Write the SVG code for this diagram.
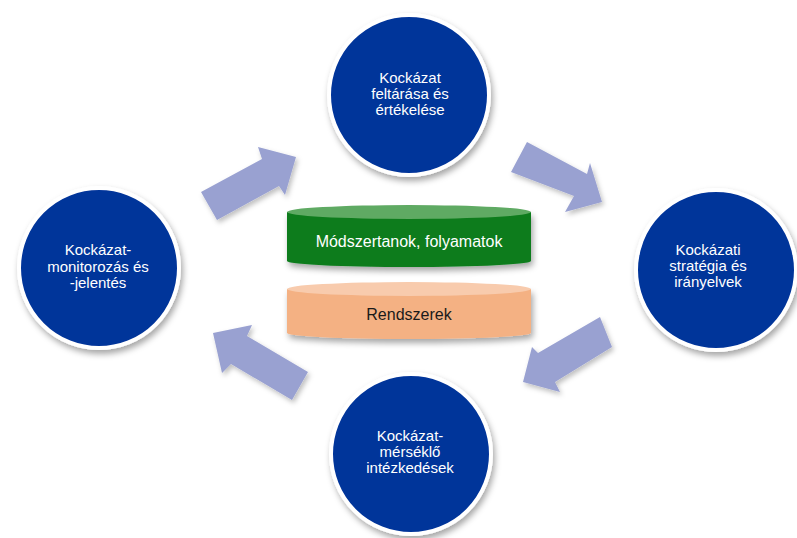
<svg xmlns="http://www.w3.org/2000/svg" width="797" height="538" viewBox="0 0 797 538">
  <style>
    .circle { fill: #02349a; stroke: #ffffff; stroke-width: 4; filter: url(#shadow); }
    .ctext { font-family: "Liberation Sans", Arial, sans-serif; font-size: 15px; fill: #ffffff; text-anchor: middle; }
    .arrow { fill: #99a1d1; filter: url(#ashadow); }
    .cyltext { font-family: "Liberation Sans", Arial, sans-serif; font-size: 16px; text-anchor: middle; }
  </style>
  <defs>
    <filter id="shadow" x="-20%" y="-20%" width="140%" height="150%">
      <feDropShadow dx="2" dy="4" stdDeviation="3" flood-color="#000000" flood-opacity="0.35"/>
    </filter>
    <filter id="ashadow" x="-20%" y="-20%" width="140%" height="150%">
      <feDropShadow dx="2" dy="3" stdDeviation="2.5" flood-color="#000000" flood-opacity="0.25"/>
    </filter>
  </defs>
  <rect width="797" height="538" fill="#ffffff"/>

  <g id="connectors">
    <polygon class="arrow" points="201,192 262,159 258,147 296,157 285,195 279,186 217,220"/>
    <polygon class="arrow" points="527,142 587,174 590,163 602,202 565,212 574,196 511,172"/>
    <polygon class="arrow" points="600,317 538,353 532,347 523,382 560,392 555,382 612,347"/>
    <polygon class="arrow" points="213,333 252,325 247,336 308,372 292,400 231,364 222,373"/>
  </g>

  <g id="node-methods">
    <path d="M287,212 L287,261 A122,6 0 0 0 531,261 L531,212 Z" fill="#0a7b1c" filter="url(#shadow)"/>
    <ellipse cx="409" cy="212" rx="122" ry="7" fill="#5faa63"/>
    <text class="cyltext" x="409" y="247" fill="#ffffff">Módszertanok, folyamatok</text>
  </g>

  <g id="node-systems">
    <path d="M287,289 L287,333 A122,6 0 0 0 531,333 L531,289 Z" fill="#f4b183" filter="url(#shadow)"/>
    <ellipse cx="409" cy="289" rx="122" ry="7" fill="#f8cbad"/>
    <text class="cyltext" x="409" y="320" fill="#1a1a1a">Rendszerek</text>
  </g>

  <g id="node-top">
    <circle class="circle" cx="409" cy="95" r="80"/>
    <text class="ctext" x="410" y="83">Kockázat</text>
    <text class="ctext" x="410" y="99">feltárása és</text>
    <text class="ctext" x="410" y="115">értékelése</text>
  </g>

  <g id="node-right">
    <circle class="circle" cx="716" cy="270" r="80"/>
    <text class="ctext" x="708" y="255">Kockázati</text>
    <text class="ctext" x="708" y="271">stratégia és</text>
    <text class="ctext" x="708" y="287">irányelvek</text>
  </g>

  <g id="node-bottom">
    <circle class="circle" cx="411" cy="454" r="80"/>
    <text class="ctext" x="410" y="441">Kockázat-</text>
    <text class="ctext" x="410" y="457">mérséklő</text>
    <text class="ctext" x="410" y="473">intézkedések</text>
  </g>

  <g id="node-left">
    <circle class="circle" cx="99" cy="268" r="80"/>
    <text class="ctext" x="98" y="255">Kockázat-</text>
    <text class="ctext" x="98" y="272">monitorozás és</text>
    <text class="ctext" x="98" y="288">-jelentés</text>
  </g>
</svg>
